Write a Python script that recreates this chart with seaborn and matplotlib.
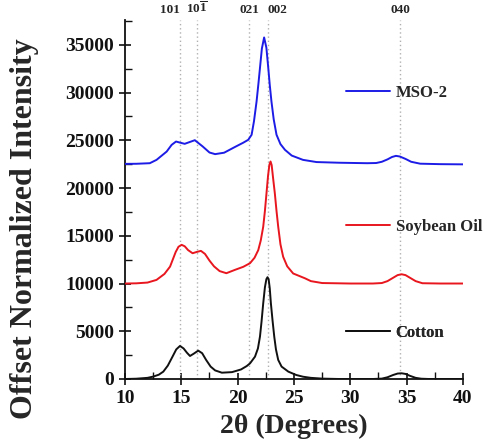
import numpy as np
import matplotlib
matplotlib.use('Agg')
import matplotlib.pyplot as plt
import pandas as pd
import seaborn as sns
from matplotlib.lines import Line2D
from matplotlib.ticker import MultipleLocator

# 数据：XRD 曲线 (2θ, 强度)
cotton_x = [10, 11, 12, 12.5, 13.0, 13.4, 13.8, 14.2, 14.55, 14.88, 15.2, 15.5, 15.77, 16.1, 16.5,
            16.85, 17.2, 17.6, 18.0, 18.6, 19.5, 20.3, 20.8, 21.1, 21.54, 21.8, 21.98, 22.12,
            22.27, 22.42, 22.55, 22.65, 22.75, 22.85, 22.95, 23.1, 23.25, 23.4, 23.6, 23.9, 24.5,
            25.2, 25.8, 26.5, 27.5, 29, 32, 32.8, 33.3, 33.8, 34.2, 34.55, 34.9, 35.3, 35.8, 36.3,
            37, 40]
cotton_y = [0, 30, 120, 250, 450, 770, 1400, 2300, 3100, 3460, 3200, 2750, 2410, 2650, 2970,
            2700, 2000, 1300, 900, 660, 720, 1000, 1350, 1640, 2340, 3200, 4430, 6000,
            7930, 9600, 10450, 10660, 10450, 9500, 7930, 6100, 4430, 3100, 2000, 1300, 770,
            420, 240, 120, 40, 0, 0, 40, 180, 420, 570, 600, 530, 330, 120, 30,
            0, 0]

soy_x = [10, 11, 12, 12.8, 13.5, 14, 14.5, 14.75, 15.03, 15.3, 15.6, 16.0, 16.35, 16.74, 17.1,
         17.5, 17.9, 18.4, 19.0, 19.76, 20.5, 21.1, 21.5, 21.83, 22.05, 22.27, 22.42, 22.56,
         22.7, 22.82, 22.92, 23.02, 23.15, 23.3, 23.45, 23.6, 23.8, 24.04, 24.4, 24.93, 25.97,
         26.5, 27.5, 30, 32, 32.8, 33.3, 33.8, 34.2, 34.55, 34.9, 35.3, 35.8, 36.4, 38, 40]
soy_y = [10000, 10020, 10100, 10380, 11000, 11770, 13300, 13850, 14050, 13900, 13500, 13170,
         13300, 13420, 13100, 12400, 11800, 11300, 11080, 11430, 11750, 12130, 12700, 13500,
         14500, 15950, 17600, 19450, 21300, 22450, 22780, 22400, 21000, 19450, 17600, 15950,
         14100, 12800, 11800, 11050, 10550, 10250, 10050, 10000, 10000, 10050, 10250, 10600,
         10880, 10970, 10880, 10600, 10250, 10030, 10000, 10000]

mso_x = [10, 11, 12.2, 12.8, 13.7, 14.14, 14.53, 14.9, 15.3, 15.7, 16.2, 16.9, 17.5, 18.0, 18.8,
         19.76, 20.5, 20.94, 21.24, 21.45, 21.68, 21.85, 21.98, 22.15, 22.35, 22.55, 22.72,
         22.85, 23.0, 23.2, 23.45, 23.8, 24.2, 24.8, 25.8, 27, 29, 31.5, 32.3, 32.8, 33.3, 33.7,
         34.05, 34.4, 34.9, 35.4, 36.2, 38, 40]
mso_y = [22530, 22540, 22600, 22950, 23820, 24520, 24870, 24750, 24630, 24800, 25010, 24350,
         23720, 23550, 23700, 24300, 24750, 25050, 25580, 27000, 29070, 31000, 32560, 34600,
         35770, 34700, 32560, 30800, 29070, 27200, 25580, 24600, 24000, 23400, 22950, 22720,
         22650, 22600, 22620, 22750, 23000, 23250, 23370, 23300, 23050, 22750, 22550, 22500,
         22480]

# 晶面标记
peak_pos = [14.88, 16.43, 21.05, 22.65, 34.45]
peak_labels = ['101', r'$\mathbf{10\overline{1}}$', '021', '002', '040']
peak_ha = ['right', 'center', 'center', 'left', 'center']

series = [('MSO-2', mso_x, mso_y, '#1c1ce6'),
          ('Soybean Oil', soy_x, soy_y, '#e8161e'),
          ('Cotton', cotton_x, cotton_y, '#111111')]

if __name__ == '__main__':
    sns.set_style('ticks')
    plt.rcParams['font.family'] = ['Liberation Serif', 'DejaVu Serif']
    plt.rcParams['font.weight'] = 'bold'
    plt.rcParams['mathtext.fontset'] = 'custom'
    plt.rcParams['mathtext.rm'] = 'Liberation Serif'
    plt.rcParams['mathtext.bf'] = 'Liberation Serif:bold'

    fig = plt.figure(figsize=(4.97, 4.44), dpi=100)
    ax = fig.add_axes([0.2515, 0.1464, 0.68, 0.8086])

    for x0 in peak_pos:
        ax.axvline(x0, color='#b0b0b0', linestyle=(0, (1, 2)), linewidth=1.0, zorder=1)

    for name, xs, ys, c in series:
        df = pd.DataFrame({'x': xs, 'y': ys})
        sns.lineplot(data=df, x='x', y='y', ax=ax, color=c, linewidth=1.4, zorder=3)

    ax.set_xlim(10, 40)
    ax.set_ylim(0, 37600)
    ax.xaxis.set_major_locator(MultipleLocator(5))
    ax.xaxis.set_minor_locator(MultipleLocator(2.5))
    ax.yaxis.set_major_locator(MultipleLocator(5000))
    ax.yaxis.set_minor_locator(MultipleLocator(2500))
    ax.tick_params(which='major', direction='inout', length=9, width=1.2, labelsize=14, colors='#111111')
    ax.tick_params(which='minor', direction='in', length=5, width=1.0, colors='#111111')
    ax.spines['top'].set_visible(False)
    ax.spines['right'].set_visible(False)
    for s in ['left', 'bottom']:
        ax.spines[s].set_linewidth(1.3)
        ax.spines[s].set_color('#111111')
    for lab in ax.get_xticklabels() + ax.get_yticklabels():
        lab.set_fontweight('bold')

    ax.set_xlabel('2θ (Degrees)', fontsize=20, fontweight='bold', labelpad=5)
    ax.set_ylabel('Offset Normalized Intensity', fontsize=23, fontweight='bold')
    ax.yaxis.set_label_coords(-0.255, 0.42)

    trans = ax.get_xaxis_transform()
    for x0, lab, ha in zip(peak_pos, peak_labels, peak_ha):
        ax.text(x0, 1.012, lab, transform=trans, ha=ha, va='bottom', fontsize=9.5,
                fontweight='bold', clip_on=False)

    # 每条曲线旁的图例
    leg_y = [0.797, 0.423, 0.128]
    for (name, xs, ys, c), ly in zip(series, leg_y):
        h = Line2D([], [], color=c, linewidth=1.4)
        leg = ax.legend([h], [name], loc='center left', bbox_to_anchor=(0.655, ly),
                        frameon=False, handlelength=2.6, handletextpad=0.35,
                        borderpad=0, borderaxespad=0, prop={'weight': 'bold', 'size': 12})
        ax.add_artist(leg)

    fig.savefig('out.png', dpi=100, facecolor='white')
